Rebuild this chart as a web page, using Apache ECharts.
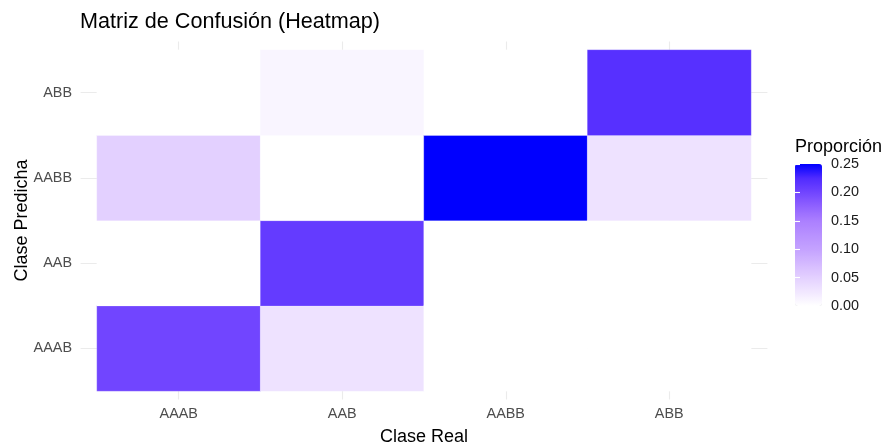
<!DOCTYPE html>
<html>
<head>
<meta charset="utf-8">
<script src="https://cdn.jsdelivr.net/npm/echarts@6/dist/echarts.min.js"></script>
<style>
  html, body { margin: 0; padding: 0; background: #fff; }
  #chart { width: 883px; height: 444px; }
</style>
</head>
<body>
<div id="chart"></div>
<script>
// categorias (eje x = clase real, eje y = clase predicha, de abajo hacia arriba)
const realClasses = ['AAAB', 'AAB', 'AABB', 'ABB'];
const predClasses = ['AAAB', 'AAB', 'AABB', 'ABB'];

// proporcion por clase real, en el orden de predClasses
const propAAAB = [0.20, 0, 0.05, 0];
const propAAB = [0.03, 0.21, 0, 0.01];
const propAABB = [0, 0, 0.25, 0];
const propABB = [0, 0, 0.03, 0.22];

const legendTicks = [0, 0.05, 0.10, 0.15, 0.20, 0.25];

const byReal = [propAAAB, propAAB, propAABB, propABB];
const heatData = [];
byReal.forEach((col, x) => {
    col.forEach((v, y) => heatData.push([x, y, v]));
});

const font = '"Liberation Sans", Arial, sans-serif';
const chart = echarts.init(document.getElementById('chart'));

const option = {
    backgroundColor: '#ffffff',
    animation: false,
    title: [
        {
            text: 'Matriz de Confusión (Heatmap)',
            left: 80, top: 11, padding: 0,
            textStyle: { fontFamily: font, fontSize: 21.6, fontWeight: 'normal', color: '#000' }
        },
        {
            text: 'Proporción',
            left: 795, top: 138, padding: 0,
            textStyle: { fontFamily: font, fontSize: 18, fontWeight: 'normal', color: '#000' }
        }
    ],
    grid: [
        // panel (lineas de fondo)
        { left: 80.6, right: 115.6, top: 41.5, bottom: 44.5, outerBoundsMode: 'none', containLabel: false },
        // teselas
        { left: 97, right: 132, top: 50, bottom: 53, outerBoundsMode: 'none', containLabel: false },
        // barra de color
        { left: 795, width: 27, top: 164, height: 142, outerBoundsMode: 'none', containLabel: false }
    ],
    xAxis: [
        {
            gridIndex: 0, type: 'value', min: 0.4, max: 4.6,
            axisLine: { show: false }, axisTick: { show: false }, axisLabel: { show: false },
            splitLine: { show: true, showMinLine: false, showMaxLine: false, lineStyle: { color: '#ebebeb', width: 1.1 } }
        },
        {
            gridIndex: 1, type: 'category', data: realClasses,
            name: 'Clase Real', nameLocation: 'middle', nameGap: 37,
            nameTextStyle: { fontFamily: font, fontSize: 18, color: '#000' },
            axisLine: { show: false }, axisTick: { show: false }, splitLine: { show: false },
            axisLabel: { margin: 16, fontFamily: font, fontSize: 14.4, color: '#4d4d4d' }
        },
        {
            gridIndex: 2, type: 'value', min: 0, max: 1, show: false
        }
    ],
    yAxis: [
        {
            gridIndex: 0, type: 'value', min: 0.4, max: 4.6,
            axisLine: { show: false }, axisTick: { show: false }, axisLabel: { show: false },
            splitLine: { show: true, showMinLine: false, showMaxLine: false, lineStyle: { color: '#ebebeb', width: 1.1 } }
        },
        {
            gridIndex: 1, type: 'category', data: predClasses,
            name: 'Clase Predicha', nameLocation: 'middle', nameGap: 66, nameRotate: 90,
            nameMoveOverlap: false,
            nameTextStyle: { fontFamily: font, fontSize: 18, color: '#000' },
            axisLine: { show: false }, axisTick: { show: false }, splitLine: { show: false },
            axisLabel: { margin: 25, fontFamily: font, fontSize: 14.4, color: '#4d4d4d' }
        },
        {
            gridIndex: 2, type: 'value', position: 'right', min: 0, max: 0.25, interval: 0.05, z: 10,
            axisLine: { show: false }, splitLine: { show: false },
            axisTick: { show: true, inside: true, length: 5, lineStyle: { color: '#ffffff', width: 1.1 } },
            axisLabel: {
                margin: 9, fontFamily: font, fontSize: 14.4, color: '#1a1a1a',
                formatter: v => legendTicks.includes(Math.round(v * 100) / 100) ? v.toFixed(2) : ''
            }
        },
        {
            gridIndex: 2, type: 'value', position: 'left', min: 0, max: 0.25, interval: 0.05, z: 10,
            axisLine: { show: false }, splitLine: { show: false }, axisLabel: { show: false },
            axisTick: { show: true, inside: true, length: 5, lineStyle: { color: '#ffffff', width: 1.1 } }
        }
    ],
    visualMap: {
        type: 'continuous',
        seriesIndex: 0,
        min: 0,
        max: 0.25,
        calculable: false,
        left: 795,
        top: 164,
        itemWidth: 27,
        itemHeight: 142,
        padding: 0,
        inRange: {
            color: ['#ffffff', '#f1e7ff', '#e3d0ff', '#d4b9ff', '#c4a2ff', '#b891ff',
                    '#ab7fff', '#9062ff', '#7145ff', '#502bff', '#0000ff']
        }
    },
    series: [
        {
            type: 'heatmap',
            xAxisIndex: 1,
            yAxisIndex: 1,
            data: heatData,
            itemStyle: { borderColor: 'rgba(255,255,255,0.4)', borderWidth: 0.5 },
            emphasis: { disabled: true }
        }
    ]
};

chart.setOption(option);
</script>
</body>
</html>
